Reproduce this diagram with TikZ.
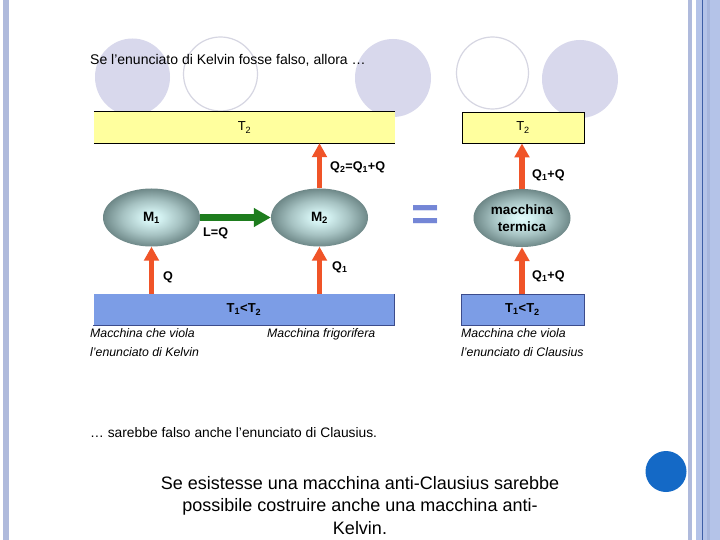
\documentclass[tikz,border=0pt]{standalone}
\usepackage{fontspec}
\setmainfont{Liberation Sans}
\usetikzlibrary{arrows.meta,shapes.geometric,positioning}
\definecolor{lav}{HTML}{D8D8EC}
\definecolor{lavline}{HTML}{D6D6E2}
\definecolor{ylw}{HTML}{FFFF9E}
\definecolor{blu}{HTML}{7C9DE6}
\definecolor{bluborder}{HTML}{3C4C8C}
\definecolor{hot}{HTML}{F05428}
\definecolor{grn}{HTML}{1E7D1E}
\definecolor{eqcol}{HTML}{7486D6}
\definecolor{stripe}{HTML}{AFBADC}
\definecolor{stripeb}{HTML}{B4C3E8}
\definecolor{stripedark}{HTML}{3D5EA6}
\definecolor{stripemid}{HTML}{A6B5DC}
\definecolor{dot}{HTML}{1469C6}
\definecolor{ellA}{HTML}{E2FAFA}
\definecolor{ellB}{HTML}{D2F0F0}
\definecolor{ellC}{HTML}{A6C2C2}
\definecolor{ellD}{HTML}{6E8888}
\definecolor{ellE}{HTML}{4E6868}
\pgfdeclareradialshading{machshade}{\pgfpoint{0bp}{0bp}}{color(0bp)=(ellA); color(5bp)=(ellB); color(15bp)=(ellC); color(25bp)=(ellD); color(32bp)=(ellE); color(50bp)=(ellE)}
\tikzset{
  machine/.style={ellipse, draw=none, shading=machshade,
    minimum width=97pt, minimum height=58pt, inner sep=0pt, font=\bfseries\fontsize{13.5}{17}\selectfont, align=center},
  heat/.style={draw=hot, line width=5.5pt, -{Triangle[width=14.5pt,length=14pt]}},
  work/.style={draw=grn, line width=6.5pt, -{Triangle[width=18pt,length=17pt]}},
  lbl/.style={font=\bfseries\fontsize{12.6}{14}\selectfont, anchor=west, inner sep=0pt},
  captext/.style={font=\itshape\fontsize{12.3}{19}\selectfont, anchor=north west, align=left, inner sep=0pt},
  band/.style={minimum height=31pt, inner sep=0pt, font=\fontsize{13}{14}\selectfont},
  deco/.style={fill=lav, draw=none},
  decoline/.style={draw=lavline, line width=1.2pt, fill=none}
}
\begin{document}
\begin{tikzpicture}[x=1pt,y=-1pt]
\useasboundingbox (0,0) rectangle (720,540);
\fill[white] (0,0) rectangle (720,540);
% side stripes
\fill[stripe] (3,0) rectangle (9,540);
\fill[stripe] (688,0) rectangle (692,540);
\fill[stripeb] (696,0) rectangle (720,540);
\fill[stripedark] (701.8,0) rectangle (702.8,540);
\fill[stripemid] (707,0) rectangle (710,540);
% decorative circles
\fill[deco] (132.5,77) ellipse [x radius=37.5, y radius=38.5];
\draw[decoline] (220.5,74) circle [radius=37];
\fill[deco] (393,78) ellipse [x radius=38, y radius=39];
\draw[decoline] (492.5,73) circle [radius=36];
\fill[deco] (580,79) ellipse [x radius=38, y radius=39];
% blue dot
\fill[dot] (666,471.5) circle [radius=20.5];
% title
\node[anchor=west, inner sep=0pt, font=\fontsize{14}{16}\selectfont] (title) at (90,60) {Se l'enunciato di Kelvin fosse falso, allora \dots};
% bands
\node[band, fill=ylw, minimum width=301pt] (hotL) at (244.5,127.5) {T\textsubscript{2}};
\draw[black, line width=0.9pt] (hotL.north west) -- (hotL.north east) (hotL.south west) -- (hotL.south east);
\node[band, fill=ylw, draw=black, line width=0.9pt, minimum width=122pt] (hotR) at (523,127.5) {T\textsubscript{2}};
\node[band, fill=blu, minimum width=301pt, font=\bfseries\fontsize{13}{14}\selectfont] (coldL) at (244,309.5) {T\textsubscript{1}<T\textsubscript{2}};
\draw[bluborder, line width=0.8pt] (coldL.north east) -- (coldL.south east) -- (coldL.south west);
\node[band, fill=blu, draw=bluborder, line width=0.8pt, minimum width=123pt, font=\bfseries\fontsize{13}{14}\selectfont] (coldR) at (522.5,309.5) {T\textsubscript{1}<T\textsubscript{2}};
% machines
\node[machine] (M1) at (151.5,217.5) {M\textsubscript{1}};
\node[machine] (M2) at (319.5,217.5) {M\textsubscript{2}};
\node[machine] (MT) at (522,218) {macchina\\termica};
% arrows
\draw[heat] (M1.south |- coldL.north) -- (M1.south);
\draw[heat] (M2.south |- coldL.north) -- (M2.south);
\draw[heat] (M2.north) -- (M2.north |- hotL.south);
\draw[heat] (MT.south |- coldR.north) -- (MT.south);
\draw[heat] (MT.north) -- (MT.north |- hotR.south);
\draw[work] (M1.east) -- (M2.west);
% labels
\node[lbl] (lq) at (163,277) {Q};
\node[lbl] (lq1) at (332,267) {Q\textsubscript{1}};
\node[lbl] (lq2) at (330,167) {Q\textsubscript{2}=Q\textsubscript{1}+Q};
\node[lbl] (lw) at (203,233) {L=Q};
\node[lbl] (rq1) at (532,175) {Q\textsubscript{1}+Q};
\node[lbl] (rq2) at (532,276) {Q\textsubscript{1}+Q};
\node[font=\bfseries\fontsize{48}{48}\selectfont, text=eqcol, inner sep=0pt] (eq) at (425.5,218.5) {=};
% captions
\node[captext] (c1) at (90,328.5) {Macchina che viola\\l'enunciato di Kelvin};
\node[captext] (c2) at (267,328.5) {Macchina frigorifera};
\node[captext] (c3) at (461,328.5) {Macchina che viola\\l'enunciato di Clausius};
% conclusion
\node[anchor=west, inner sep=0pt, font=\fontsize{13.8}{16}\selectfont] (concl) at (90,433) {\dots{} sarebbe falso anche l'enunciato di Clausius.};
\node[align=center, inner sep=0pt, font=\fontsize{18}{22.5}\selectfont] (bottom) at (360,505.5) {Se esistesse una macchina anti-Clausius sarebbe\\possibile costruire anche una macchina anti-\\Kelvin.};
\end{tikzpicture}
\end{document}
